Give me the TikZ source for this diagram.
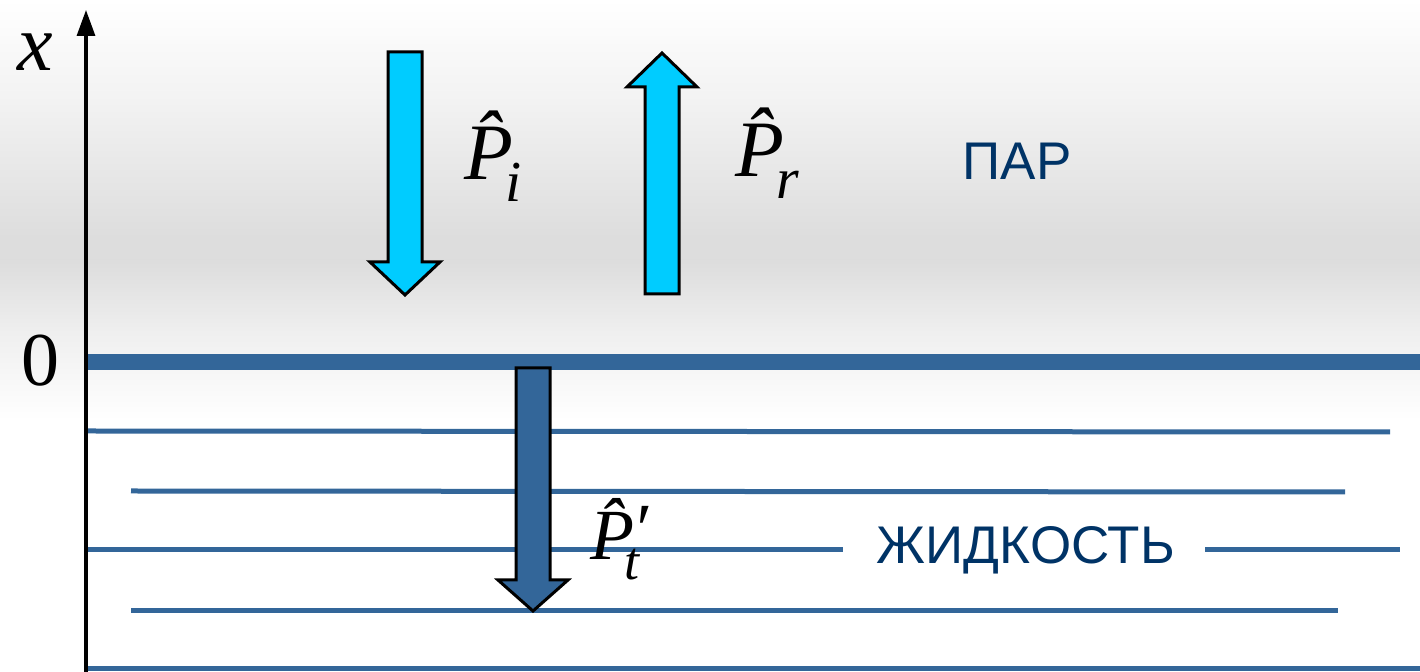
\documentclass[tikz,border=0pt]{standalone}
\usepackage{graphicx}
\usepackage{fontspec}
\newfontfamily\labfont{Liberation Sans}
\newfontfamily\serfont{Liberation Serif}
\usetikzlibrary{arrows.meta}
\definecolor{lineblue}{HTML}{336699}
\definecolor{textblue}{HTML}{003366}
\definecolor{cyanfill}{HTML}{00CCFF}
\newcommand{\plab}[1]{{\serfont\itshape\fontsize{40}{44}\selectfont P\symbol{"0302}\kern-4pt\raisebox{-11pt}{\fontsize{29}{32}\selectfont #1}}}
\newcommand{\ptlab}{{\serfont\itshape\fontsize{36}{40}\selectfont P\symbol{"0302}\rlap{\kern-1pt\raisebox{3pt}{\symbol{"2032}}}\kern-5pt\raisebox{-10pt}{\fontsize{27}{30}\selectfont t}}}
\tikzset{
  layer/.style={line width=2.5pt, draw=lineblue},
  bigarrow/.style={draw=black, line width=1.5pt, line join=miter},
  phase/.style={font=\labfont\fontsize{26.5}{30}\selectfont, text=textblue, inner sep=0pt},
  mlabel/.style={inner sep=0pt, anchor=base west}
}
\begin{document}
\begin{tikzpicture}[x=0.5pt,y=-0.5pt]
\useasboundingbox (0,0) rectangle (1420,672);
% background
\fill[top color=white, bottom color=black!5] (0,0) rectangle (1420,100.5);
\fill[top color=black!5, bottom color=black!13.5] (0,100) rectangle (1420,240.5);
\fill[black!13.5] (0,240) rectangle (1420,260.5);
\fill[top color=black!13.5, bottom color=black!6.5] (0,260) rectangle (1420,330.5);
\fill[top color=black!6.5, bottom color=white] (0,330) rectangle (1420,420);
% interface and liquid layers
\draw[lineblue, line width=8pt] (86,362) -- (1420,362);
\draw[layer] (88,431) -- (1390,432);
\draw[layer] (131,491) -- (1345,492);
\draw[layer] (88,550) -- (843,550);
\draw[layer] (1205,550) -- (1400,550);
\draw[layer] (131,611) -- (1338,611);
\draw[layer] (86,669) -- (1420,669);
% axis
\coordinate (axbot) at (86,672);
\coordinate (axtop) at (86,10);
\draw[line width=1.6pt, -{Triangle[length=13pt,width=9pt]}] (axbot) -- (axtop);
\node[font=\serfont\itshape\fontsize{40}{44}\selectfont, inner sep=0pt] (xlab) at (35,52) {x};
\node[font=\serfont\fontsize{38}{44}\selectfont, inner sep=0pt] (zero) at (40,361) {0};
% incident arrow
\draw[bigarrow, fill=cyanfill] (388,52) -- (422,52) -- (422,262) -- (440,262) -- (405,295) -- (370,262) -- (388,262) -- cycle;
% reflected arrow
\draw[bigarrow, fill=cyanfill] (645,294) -- (679,294) -- (679,87) -- (697,87) -- (662,53) -- (627,87) -- (645,87) -- cycle;
% transmitted arrow
\draw[bigarrow, fill=lineblue] (516,368) -- (550,368) -- (550,580) -- (568,580) -- (533,611) -- (498,580) -- (516,580) -- cycle;
% labels
\node[mlabel] (pi) at (464,180) {\plab{i}};
\node[mlabel] (pr) at (735,177) {\plab{r}};
\node[mlabel] (pt) at (590,560) {\ptlab};
\node[phase] (par) at (1017,161) {ПАР};
\node[phase] (liq) at (1026,550) {ЖИДКОСТЬ};
\end{tikzpicture}
\end{document}
